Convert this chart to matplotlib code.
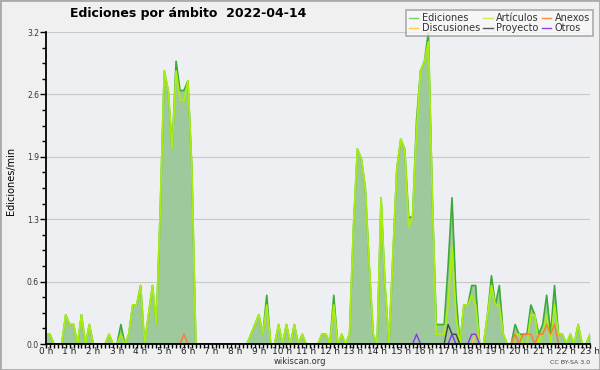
import numpy as np
import matplotlib
matplotlib.use("Agg")
import matplotlib.pyplot as plt
from matplotlib.patches import Rectangle
from matplotlib.ticker import MultipleLocator, FixedLocator

# 10-minute bins, values in edits/min
ediciones = [0.1, 0.1, 0, 0, 0, 0.3, 0.2, 0.2, 0, 0.3, 0, 0.2, 0, 0, 0, 0, 0.1, 0, 0, 0.2,
             0, 0.1, 0.4, 0.4, 0.6, 0, 0.3, 0.6, 0.2, 1.4, 2.8, 2.6, 2.0, 2.9, 2.6, 2.6, 2.7, 1.8, 0, 0,
             0, 0, 0, 0, 0, 0, 0, 0, 0, 0, 0, 0, 0.1, 0.2, 0.3, 0.1, 0.5, 0, 0, 0.2,
             0, 0.2, 0, 0.2, 0, 0.1, 0, 0, 0, 0, 0.1, 0.1, 0, 0.5, 0, 0.1, 0, 0.1, 1.2, 2.0,
             1.9, 1.6, 0.8, 0.1, 0, 1.5, 0.6, 0, 0.9, 1.8, 2.1, 2.0, 1.3, 1.3, 2.3, 2.8, 2.9, 3.2, 1.5, 0.2,
             0.2, 0.2, 0.8, 1.5, 0.5, 0, 0.4, 0.4, 0.6, 0.6, 0, 0, 0.3, 0.7, 0.4, 0.6, 0.1, 0, 0, 0.2,
             0.1, 0.1, 0.1, 0.4, 0.3, 0.1, 0.2, 0.5, 0.1, 0.6, 0.1, 0.1, 0, 0.1, 0, 0.2, 0, 0, 0.1]

articulos = [0.1, 0.1, 0, 0, 0, 0.3, 0.2, 0.2, 0, 0.3, 0, 0.2, 0, 0, 0, 0, 0.1, 0, 0, 0.1,
             0, 0.1, 0.4, 0.4, 0.6, 0, 0.3, 0.6, 0.2, 1.4, 2.8, 2.6, 2.0, 2.8, 2.5, 2.5, 2.7, 1.8, 0, 0,
             0, 0, 0, 0, 0, 0, 0, 0, 0, 0, 0, 0, 0.1, 0.2, 0.3, 0.1, 0.4, 0, 0, 0.2,
             0, 0.2, 0, 0.2, 0, 0.1, 0, 0, 0, 0, 0.1, 0.1, 0, 0.4, 0, 0.1, 0, 0.1, 1.2, 2.0,
             1.9, 1.6, 0.8, 0.1, 0, 1.5, 0.6, 0, 0.9, 1.8, 2.1, 2.0, 1.2, 1.3, 2.2, 2.8, 2.9, 3.1, 1.5, 0.1,
             0.1, 0.1, 0.4, 1.0, 0.3, 0, 0.4, 0.4, 0.5, 0.4, 0, 0, 0.3, 0.6, 0.4, 0.4, 0.1, 0, 0, 0.1,
             0.1, 0, 0, 0.3, 0.3, 0, 0.1, 0.3, 0, 0.4, 0.1, 0.1, 0, 0.1, 0, 0.2, 0, 0, 0.1]

n = len(ediciones)
anexos = [0.0] * n
for i, v in {35: 0.1, 119: 0.1, 121: 0.1, 122: 0.1, 123: 0.1, 125: 0.1, 126: 0.1,
             127: 0.2, 128: 0.1, 129: 0.2}.items():
    anexos[i] = v
discusiones = [0.0] * n
discusiones[109] = 0.1
proyecto = [0.0] * n
for i, v in {102: 0.2, 103: 0.1, 104: 0.1}.items():
    proyecto[i] = v
otros = [0.0] * n
for i in (94, 103, 108, 109):
    otros[i] = 0.1

hour_labels = [f"{h} h" for h in range(24)]

fig = plt.figure(figsize=(6.0, 3.7), dpi=100, facecolor="#f0f0f0")
ax = fig.add_axes([46/600, 1-344/370, (590-46)/600, (344-32)/370])
ax.set_facecolor("#eeeff2")

x = np.arange(n) / 6.0
ax.fill_between(x, ediciones, 0, color="#9dc99d", lw=0, zorder=1)
ax.plot(x, ediciones, color="#3aaa3a", lw=1.2, zorder=3)
ax.plot(x, articulos, color="#aaee11", lw=1.3, zorder=3)
ax.plot(x, anexos, color="#ff7733", lw=1.0, zorder=3)
ax.plot(x, discusiones, color="#ffcc33", lw=1.0, zorder=3)
ax.plot(x, proyecto, color="#444444", lw=1.0, zorder=3)
ax.plot(x, otros, color="#8833ee", lw=1.0, zorder=3)

ax.set_xlim(0, 23)
ax.set_ylim(0, 3.2)

yt = np.linspace(0, 3.2, 6)
ax.yaxis.set_major_locator(FixedLocator(yt))
ax.set_yticklabels([f"{v:.1f}" for v in yt])
ax.yaxis.set_minor_locator(MultipleLocator(0.16))
ax.xaxis.set_major_locator(FixedLocator(range(24)))
ax.set_xticklabels(hour_labels)
ax.xaxis.set_minor_locator(MultipleLocator(1/6))

ax.grid(axis="y", which="major", color="#c8c8c8", lw=0.8, zorder=0)
ax.set_axisbelow(True)

for s in ("top", "right"):
    ax.spines[s].set_visible(False)
for s in ("left", "bottom"):
    ax.spines[s].set_linewidth(1.3)
    ax.spines[s].set_zorder(5)

ax.tick_params(axis="both", which="major", length=4, width=1, direction="out", colors="black")
ax.tick_params(axis="both", which="minor", length=3, width=1, direction="out")
ax.tick_params(axis="x", which="major", length=3, labelsize=6.5, pad=-0.5, labelcolor="#222222")
ax.tick_params(axis="y", labelsize=5.5, pad=1, labelcolor="#333333")

fig.text(0.018, 0.51, "Ediciones/min", rotation=90, ha="center", va="center", fontsize=7)
fig.text(188/600, 1-14/370, "Ediciones por ámbito  2022-04-14", ha="center", va="center",
         fontsize=9, fontweight="bold")
fig.text(300/600, 1-362/370, "wikiscan.org", ha="center", va="center", fontsize=6, color="#333333")
fig.text(590/600, 1-362/370, "CC BY-SA 3.0", ha="right", va="center", fontsize=4.5, color="#444444")

handles = [
    plt.Line2D([], [], color="#77cc77", lw=1),
    plt.Line2D([], [], color="#ffcc44", lw=1),
    plt.Line2D([], [], color="#ccee55", lw=1),
    plt.Line2D([], [], color="#555555", lw=1),
    plt.Line2D([], [], color="#ff8844", lw=1),
    plt.Line2D([], [], color="#8844ee", lw=1),
]
labels = ["Ediciones", "Discusiones", "Artículos", "Proyecto", "Anexos", "Otros"]
leg = fig.legend(handles, labels, loc="upper right", bbox_to_anchor=(0.988, 0.973), ncol=3,
                 fontsize=7, frameon=True, fancybox=False, handlelength=1.0, handletextpad=0.35,
                 columnspacing=0.3, labelspacing=0.05, borderpad=0.3, borderaxespad=0)
leg.get_frame().set_facecolor("#f8f8f8")
leg.get_frame().set_edgecolor("#999999")
leg.get_frame().set_linewidth(1.2)
for t in leg.get_texts():
    t.set_color("#333333")

fig.patches.append(Rectangle((0, 0), 1, 1, transform=fig.transFigure, fill=False,
                             edgecolor="#aaaaaa", lw=2))

fig.savefig("out.png", dpi=100, facecolor=fig.get_facecolor())
